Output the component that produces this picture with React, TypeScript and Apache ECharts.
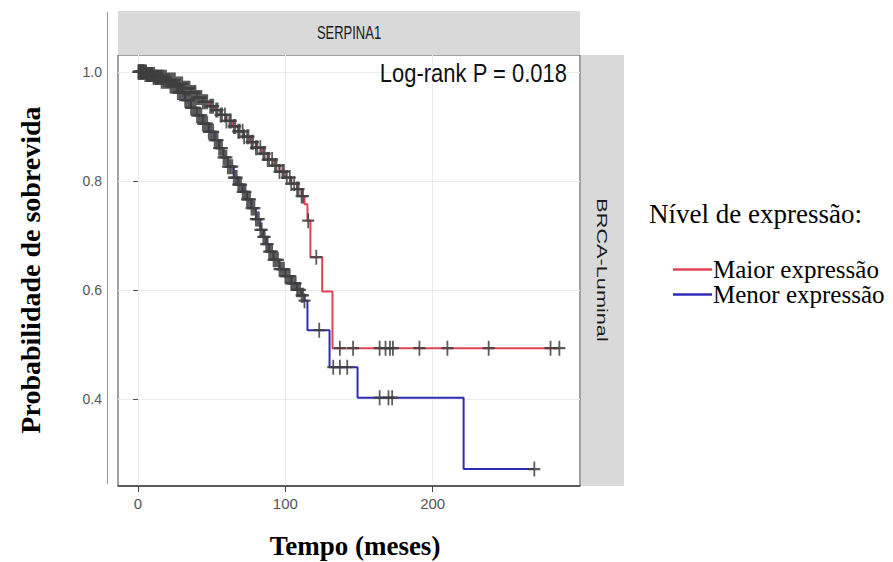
import React, { useEffect, useRef } from "react";
import * as echarts from "echarts";

// Kaplan-Meier steps (time in months, survival probability)
const redTimes = [0, 6, 12, 20, 26, 31, 36, 40, 44, 48, 52, 56, 60, 64, 68, 72, 76, 80, 84, 88, 92, 96, 100, 104, 108, 111, 113, 115, 117, 125, 132, 286];
const redSurv = [1.0, 0.995, 0.99, 0.985, 0.978, 0.97, 0.962, 0.953, 0.945, 0.937, 0.93, 0.921, 0.91, 0.9, 0.891, 0.881, 0.871, 0.861, 0.85, 0.839, 0.828, 0.817, 0.806, 0.795, 0.785, 0.772, 0.757, 0.727, 0.66, 0.597, 0.493, 0.493];

const blueTimes = [0, 5, 10, 16, 22, 27, 32, 36, 40, 44, 48, 52, 55, 58, 61, 65, 68, 71, 74, 77, 80, 83, 85, 87, 89, 92, 96, 100, 104, 108, 111, 113, 115, 130, 149, 221, 269];
const blueSurv = [1.0, 0.995, 0.99, 0.983, 0.974, 0.962, 0.948, 0.934, 0.92, 0.905, 0.89, 0.875, 0.86, 0.843, 0.826, 0.806, 0.793, 0.78, 0.766, 0.75, 0.73, 0.71, 0.697, 0.684, 0.67, 0.655, 0.638, 0.625, 0.612, 0.6, 0.59, 0.58, 0.526, 0.458, 0.402, 0.271, 0.271];

// censoring times
const redCensor = [0.5, 1, 1.5, 2, 2.5, 3, 3.5, 4, 5, 5.5, 6, 7, 7.5, 8, 9, 9.5, 10, 11, 12, 12.5, 13, 14, 15, 16, 16.5, 17, 18, 19, 20, 21, 22, 23, 24, 25, 26, 27, 28, 29, 30, 31, 32, 33, 34, 35, 36, 37, 38, 39, 40, 41, 42, 43, 44, 45, 46, 47, 49, 50, 51, 53, 54, 56, 57, 59, 60, 62, 63, 65, 66, 68, 69, 71, 72, 74, 75, 77, 78, 80, 81, 83, 85, 86, 88, 89, 91, 93, 94, 96, 98, 99, 101, 103, 104, 106, 108, 109, 111, 112, 115.5, 121, 137, 146, 164, 168, 171, 173, 191, 210, 238, 280, 286];
const blueCensor = [0.2, 0.8, 1.2, 2, 2.8, 3.5, 4.2, 5, 6, 6.5, 7, 8, 8.5, 9.5, 10.5, 11, 12, 13, 13.5, 14.5, 15.5, 16, 17, 18, 19, 20, 21, 22, 23, 24, 25, 26, 27, 28, 29, 30, 31, 32, 33, 34, 35, 36, 37, 38, 39, 40, 41, 42, 43, 44, 45, 46, 47, 48, 49, 50, 51, 52, 53, 54, 55, 56, 57, 58, 59, 60, 61, 62, 63, 64, 65, 66, 67, 68, 69, 70, 71, 72, 73, 74, 75, 76, 77, 78, 79, 80, 81, 82, 83, 84, 85, 86, 87, 88, 89, 90, 91, 92, 93, 94, 95, 96, 97, 98, 99, 100, 101, 102, 103, 104, 105, 106, 107, 108, 109, 110, 111, 112, 113, 123, 132.5, 137, 142, 164, 170, 172.5, 269];

const seriesNames = ["Maior expressão", "Menor expressão"];
const xTicks = [0, 100, 200];
const yTicks = [0.4, 0.6, 0.8, 1.0];

const RED = "#DE4452";
const BLUE = "#2C2CB4";
const PLUS = "path://M4.25,0H5.75V4.25H10V5.75H5.75V10H4.25V5.75H0V4.25H4.25Z";

function survAt(times: number[], surv: number[], t: number) {
  let s = surv[0];
  for (let i = 0; i < times.length; i++) {
    if (times[i] <= t) s = surv[i];
  }
  return s;
}

export default function App() {
  const ref = useRef<HTMLDivElement>(null);
  useEffect(() => {
    if (!ref.current) return;
    const chart = echarts.init(ref.current, null, { renderer: "svg" });
    const redData = redTimes.map((t, i) => [t, redSurv[i]]);
    const blueData = blueTimes.map((t, i) => [t, blueSurv[i]]);
    const redC = redCensor.map((t) => [t, survAt(redTimes, redSurv, t)]);
    const blueC = blueCensor.map((t) => [t, survAt(blueTimes, blueSurv, t)]);
    const sans = "Liberation Sans";
    const serif = "Liberation Serif";
    chart.setOption({
      animation: false,
      backgroundColor: "#ffffff",
      grid: {
        left: 118,
        right: 313,
        top: 55,
        bottom: 76,
        show: true,
        borderColor: "#444",
        borderWidth: 1,
        backgroundColor: "#ffffff",
      },
      xAxis: {
        type: "value",
        min: -13.6,
        max: 300,
        minInterval: 50,
        maxInterval: 50,
        axisLine: { show: true, onZero: false, lineStyle: { color: "#444", width: 1.5 } },
        axisTick: { show: true, length: 6, customValues: xTicks, lineStyle: { color: "#444" } },
        axisLabel: { customValues: xTicks, margin: 10, fontSize: 15, color: "#555", fontFamily: sans },
        splitLine: { show: true, lineStyle: { color: "#ececec", width: 1 } },
      },
      yAxis: {
        type: "value",
        min: 0.24,
        max: 1.031,
        minInterval: 0.1,
        maxInterval: 0.1,
        offset: 11,
        axisLine: { show: false },
        axisTick: { show: true, length: 5, customValues: yTicks, lineStyle: { color: "#555" } },
        axisLabel: {
          customValues: yTicks,
          margin: 5,
          fontSize: 14,
          color: "#555",
          fontFamily: sans,
          formatter: (v: number) => v.toFixed(1),
        },
        splitLine: { show: true, lineStyle: { color: "#ececec", width: 1 } },
      },
      legend: {
        data: seriesNames,
        orient: "vertical",
        left: 668,
        top: 252,
        icon: "rect",
        itemWidth: 39,
        itemHeight: 2.5,
        itemGap: 0,
        textStyle: { fontFamily: serif, fontSize: 25, lineHeight: 21, color: "#000", padding: [0, 0, 0, -4] },
      },
      series: [
        {
          name: seriesNames[0],
          type: "line",
          step: "end",
          data: redData,
          symbol: "none",
          lineStyle: { color: RED, width: 2 },
          itemStyle: { color: RED },
          z: 2,
        },
        {
          name: seriesNames[1],
          type: "line",
          step: "end",
          data: blueData,
          symbol: "none",
          lineStyle: { color: BLUE, width: 2 },
          itemStyle: { color: BLUE },
          z: 3,
        },
        {
          type: "scatter",
          data: redC,
          symbol: PLUS,
          symbolSize: [12, 15],
          itemStyle: { color: "#404040", opacity: 0.85 },
          z: 4,
          silent: true,
        },
        {
          type: "scatter",
          data: blueC,
          symbol: PLUS,
          symbolSize: [12, 15],
          itemStyle: { color: "#404040", opacity: 0.85 },
          z: 4,
          silent: true,
        },
      ],
      graphic: [
        { type: "line", shape: { x1: 107.5, y1: 12, x2: 107.5, y2: 484 }, style: { stroke: "#999", lineWidth: 1 } },
        { type: "rect", shape: { x: 118, y: 11, width: 462, height: 44 }, style: { fill: "#d9d9d9" } },
        {
          type: "text",
          x: 349,
          y: 33,
          scaleY: 1.4,
          style: { text: "SERPINA1", fontSize: 13, fontFamily: sans, fill: "#1a1a1a", textAlign: "center", textVerticalAlign: "middle" },
        },
        { type: "rect", shape: { x: 581, y: 55, width: 43, height: 431 }, style: { fill: "#d9d9d9" } },
        {
          type: "text",
          x: 602,
          y: 270,
          rotation: -Math.PI / 2,
          scaleX: 1.55,
          style: { text: "BRCA-Luminal", fontSize: 14, fontFamily: sans, fill: "#1a1a1a", textAlign: "center", textVerticalAlign: "middle" },
        },
        {
          type: "text",
          x: 567,
          y: 73,
          z: 10,
          scaleY: 1.2,
          style: { text: "Log-rank P = 0.018", fontSize: 22, fontFamily: sans, fill: "#111", textAlign: "right", textVerticalAlign: "middle" },
        },
        {
          type: "text",
          x: 649,
          y: 214,
          style: { text: "Nível de expressão:", fontSize: 27, fontFamily: serif, fill: "#000", textAlign: "left", textVerticalAlign: "middle" },
        },
        {
          type: "text",
          x: 30,
          y: 270,
          rotation: Math.PI / 2,
          style: { text: "Probabilidade de sobrevida", fontSize: 28, fontWeight: "bold", fontFamily: serif, fill: "#000", textAlign: "center", textVerticalAlign: "middle" },
        },
        {
          type: "text",
          x: 355,
          y: 546,
          style: { text: "Tempo (meses)", fontSize: 27, fontWeight: "bold", fontFamily: serif, fill: "#000", textAlign: "center", textVerticalAlign: "middle" },
        },
      ],
    });
    return () => chart.dispose();
  }, []);
  return <div ref={ref} style={{ position: "fixed", left: 0, top: 0, width: 893, height: 562 }} />;
}
